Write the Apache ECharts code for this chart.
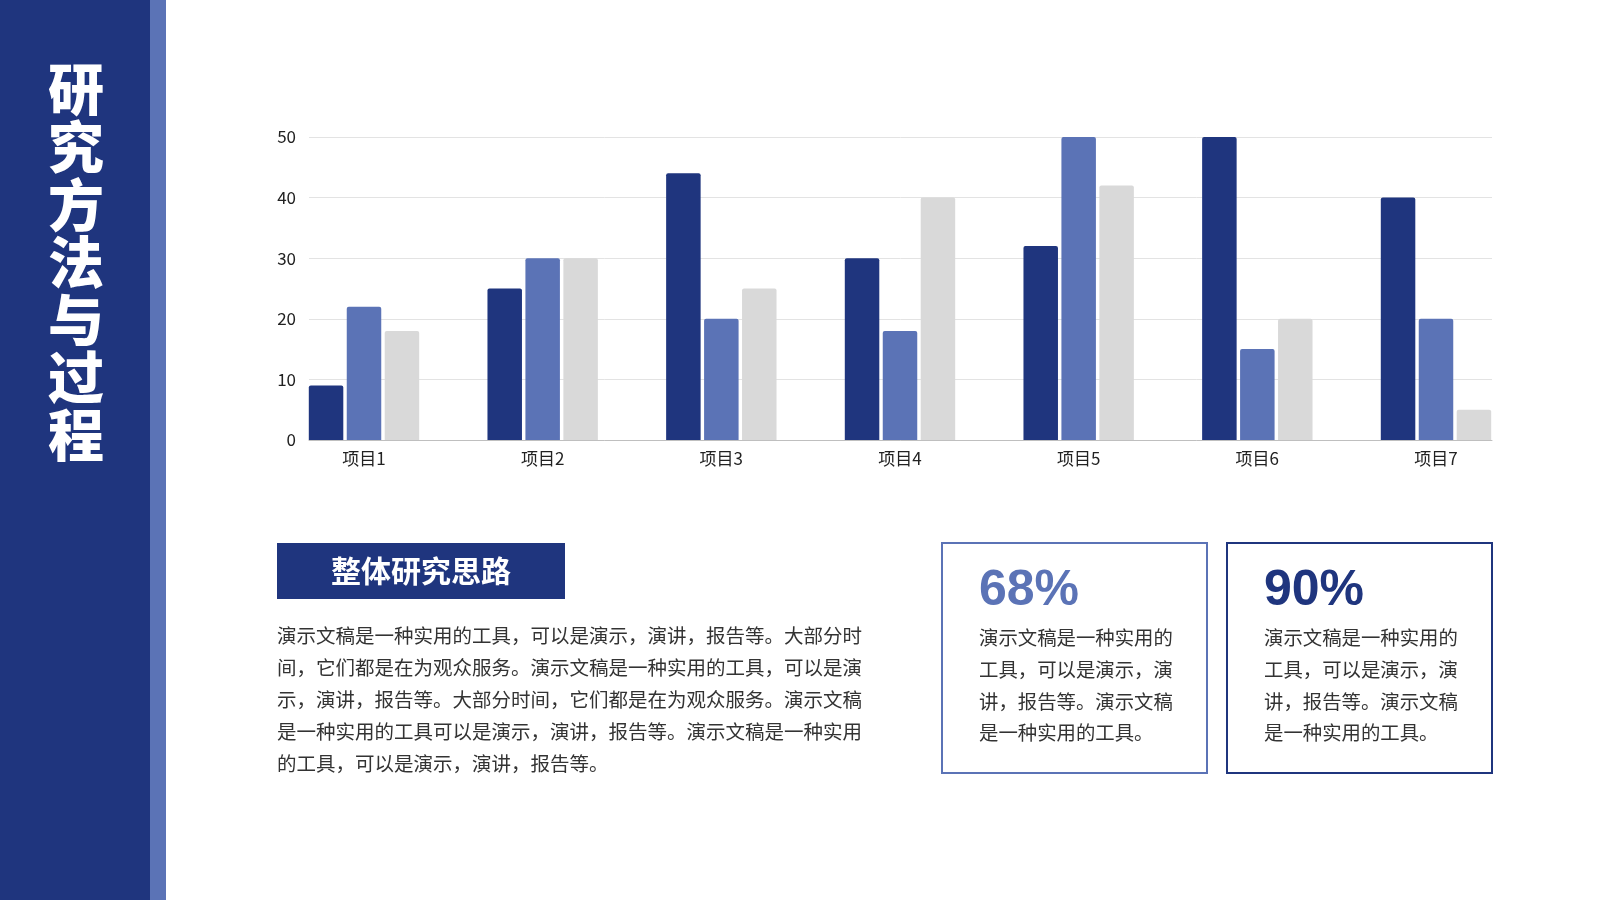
<!DOCTYPE html>
<html>
<head>
<meta charset="utf-8">
<script src="https://cdn.jsdelivr.net/npm/echarts@6/dist/echarts.min.js"></script>
<style>
html,body{margin:0;padding:0;background:#fff;}
#main{width:1600px;height:900px;}
</style>
</head>
<body>
<div id="main"></div>
<script>
const categories = ['项目1', '项目2', '项目3', '项目4', '项目5', '项目6', '项目7'];
const series1 = [9, 25, 44, 30, 32, 50, 40];
const series2 = [22, 30, 20, 18, 50, 15, 20];
const series3 = [18, 30, 25, 40, 42, 20, 5];
const seriesNames = ['系列1', '系列2', '系列3'];
const yMin = 0, yMax = 50, yStep = 10;

const sideTitle = '研究方法与过程';
const sectionTitle = '整体研究思路';
const paragraphLines = [
  '演示文稿是一种实用的工具，可以是演示，演讲，报告等。大部分时',
  '间，它们都是在为观众服务。演示文稿是一种实用的工具，可以是演',
  '示，演讲，报告等。大部分时间，它们都是在为观众服务。演示文稿',
  '是一种实用的工具可以是演示，演讲，报告等。演示文稿是一种实用',
  '的工具，可以是演示，演讲，报告等。'
];
const stat1 = '68%';
const stat2 = '90%';
const statLines = ['演示文稿是一种实用的', '工具，可以是演示，演', '讲，报告等。演示文稿', '是一种实用的工具。'];

const DARK = '#1F357E';
const MID = '#5B73B6';
const LIGHT = '#D9D9D9';
const CJK = '"Noto Sans CJK SC", "Noto Sans", sans-serif';

const chart = echarts.init(document.getElementById('main'), null, {renderer: 'canvas', width: 1600, height: 900});

const barCommon = {
  type: 'bar', xAxisIndex: 1, yAxisIndex: 1, barWidth: 34.5, barGap: '10%',
  clip: false
};

chart.setOption({
  animation: false,
  backgroundColor: '#fff',
  grid: [
    {left: 309, right: 108, top: 137, bottom: 460},
    {left: 364, right: 164, top: 137, bottom: 460}
  ],
  xAxis: [
    {
      gridIndex: 0, type: 'category', data: categories,
      axisLine: {show: true, lineStyle: {color: '#BFBFBF', width: 1}},
      axisTick: {show: false}, axisLabel: {show: false}, splitLine: {show: false}
    },
    {
      gridIndex: 1, type: 'category', data: categories, boundaryGap: false,
      axisLine: {show: false}, axisTick: {show: false}, splitLine: {show: false},
      axisLabel: {show: true, color: '#222', fontSize: 17, fontFamily: CJK, margin: 10}
    }
  ],
  yAxis: [
    {
      gridIndex: 0, type: 'value', min: yMin, max: yMax, interval: yStep,
      axisLine: {show: false}, axisTick: {show: false},
      axisLabel: {color: '#222', fontSize: 17, fontFamily: CJK, margin: 13},
      splitLine: {show: true, lineStyle: {color: '#E3E3E3', width: 1}}
    },
    {
      gridIndex: 1, type: 'value', min: yMin, max: yMax, interval: yStep,
      show: false, splitLine: {show: false}
    }
  ],
  series: [
    Object.assign({}, barCommon, {name: seriesNames[0], data: series1, itemStyle: {color: DARK, borderRadius: [2, 2, 0, 0]}}),
    Object.assign({}, barCommon, {name: seriesNames[1], data: series2, itemStyle: {color: MID, borderRadius: [2, 2, 0, 0]}}),
    Object.assign({}, barCommon, {name: seriesNames[2], data: series3, itemStyle: {color: LIGHT, borderRadius: [2, 2, 0, 0]}})
  ],
  graphic: [
    {type: 'rect', shape: {x: 0, y: 0, width: 150, height: 900}, style: {fill: DARK}, z: 0},
    {type: 'rect', shape: {x: 150, y: 0, width: 16, height: 900}, style: {fill: MID}, z: 0},
    {
      type: 'text', x: 76, y: 262, z: 10,
      style: {
        text: sideTitle.split('').join('\n'), fill: '#fff',
        font: '900 56px ' + CJK, lineHeight: 57.6,
        textAlign: 'center', textVerticalAlign: 'middle'
      }
    },
    {type: 'rect', shape: {x: 277, y: 543, width: 288, height: 56}, style: {fill: DARK}},
    {
      type: 'text', x: 421, y: 571, z: 10,
      style: {
        text: sectionTitle, fill: '#fff', font: 'bold 30px ' + CJK,
        textAlign: 'center', textVerticalAlign: 'middle'
      }
    },
    {
      type: 'text', x: 277, y: 620,
      style: {
        text: paragraphLines.join('\n'), fill: '#333', font: '19.5px ' + CJK,
        lineHeight: 31.8, textAlign: 'left', textVerticalAlign: 'top'
      }
    },
    {type: 'rect', shape: {x: 942, y: 543, width: 265, height: 230}, style: {fill: 'none', stroke: MID, lineWidth: 2}},
    {type: 'rect', shape: {x: 1227, y: 543, width: 265, height: 230}, style: {fill: 'none', stroke: DARK, lineWidth: 2}},
    {
      type: 'text', x: 979, y: 591,
      style: {text: stat1, fill: MID, font: 'bold 50px "Liberation Sans", Arial, sans-serif', textAlign: 'left', textVerticalAlign: 'middle'}
    },
    {
      type: 'text', x: 1264, y: 591,
      style: {text: stat2, fill: DARK, font: 'bold 50px "Liberation Sans", Arial, sans-serif', textAlign: 'left', textVerticalAlign: 'middle'}
    },
    {
      type: 'text', x: 979, y: 622,
      style: {text: statLines.join('\n'), fill: '#333', font: '19.4px ' + CJK, lineHeight: 31.7, textAlign: 'left', textVerticalAlign: 'top'}
    },
    {
      type: 'text', x: 1264, y: 622,
      style: {text: statLines.join('\n'), fill: '#333', font: '19.4px ' + CJK, lineHeight: 31.7, textAlign: 'left', textVerticalAlign: 'top'}
    }
  ]
});
</script>
</body>
</html>
